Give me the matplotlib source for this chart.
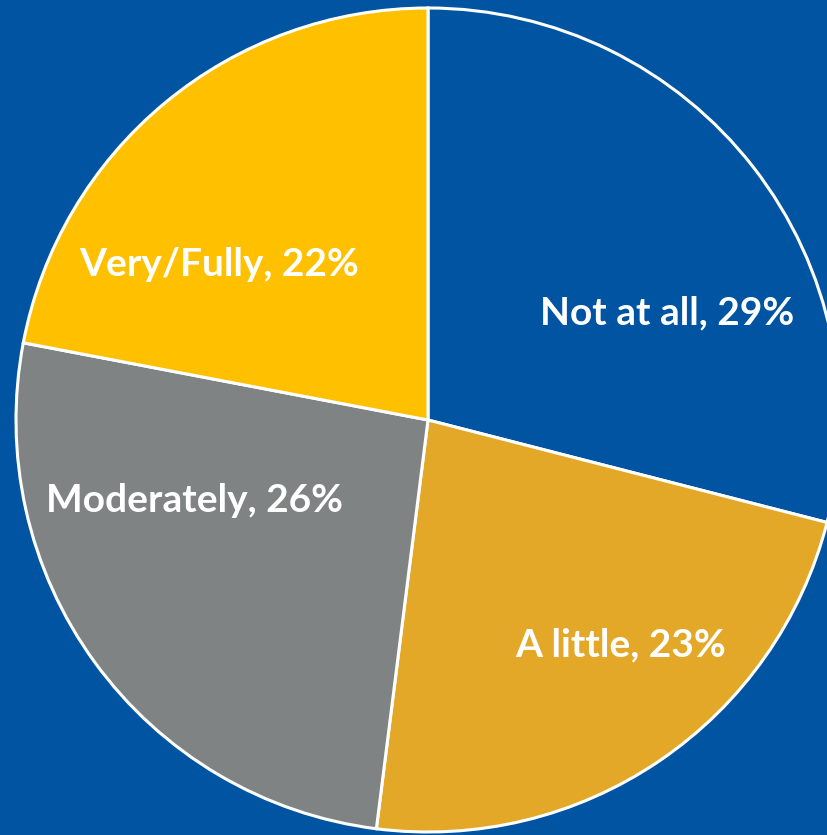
import matplotlib
matplotlib.use("Agg")
import matplotlib.pyplot as plt

categories = ["Not at all", "A little", "Moderately", "Very/Fully"]
values = [29, 23, 26, 22]
colors = ["#0054A2", "#E3A827", "#808384", "#FFC000"]
bg = "#0054A2"

# label positions in pixel coordinates (x from left, y from top)
label_pos = [(667, 313), (621, 645), (195, 500), (219, 265)]

W, H = 827, 835
fig = plt.figure(figsize=(W / 100, H / 100), dpi=100, facecolor=bg)
ax = fig.add_axes([0, 0, 1, 1])
ax.set_facecolor(bg)

cx, cy, r = 428, 420, 412
ax.pie(values, colors=colors, startangle=90, counterclock=False,
       center=(cx, H - cy), radius=r,
       wedgeprops=dict(edgecolor="white", linewidth=2.2))
ax.set_xlim(0, W)
ax.set_ylim(0, H)
ax.set_aspect("equal")
ax.axis("off")

for cat, v, (x, y) in zip(categories, values, label_pos):
    ax.text(x, H - y, f"{cat}, {v}%", color="white", fontsize=28,
            fontweight="bold", family="Lato", ha="center", va="center")

fig.savefig("out.png", dpi=100, facecolor=bg)
